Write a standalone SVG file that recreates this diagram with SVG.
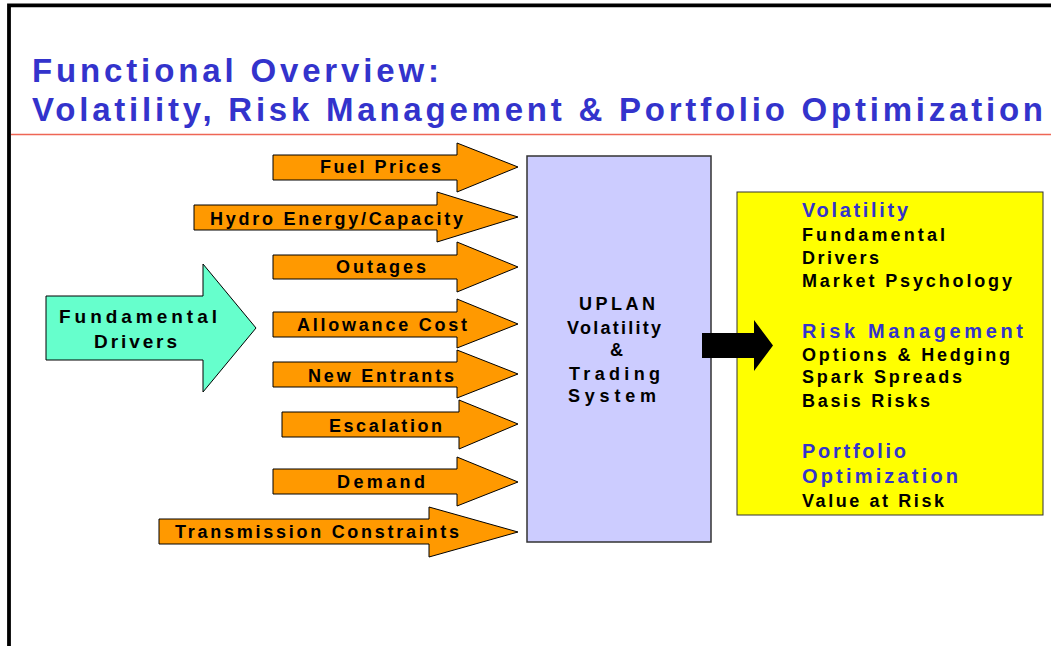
<svg xmlns="http://www.w3.org/2000/svg" width="1051" height="646" viewBox="0 0 1051 646">
<style>
text{font-family:"Liberation Sans",Arial,sans-serif;font-weight:bold}
.title{font-size:33px;fill:#3333CC}
.lbl{font-size:18px;fill:#000}
.big{font-size:19px;fill:#000}
.head{font-size:20px;fill:#3333CC}
.orange{fill:#FF9900;stroke:#000;stroke-width:1}
</style>
<rect x="0" y="0" width="1051" height="646" fill="#fff"/>
<path d="M9,646 V5.3 H1051" fill="none" stroke="#000" stroke-width="3.8"/>
<g id="title">
<text class="title" x="32" y="82" textLength="407" lengthAdjust="spacing">Functional Overview:</text>
<text class="title" x="32" y="121" textLength="1011" lengthAdjust="spacing">Volatility, Risk Management &amp; Portfolio Optimization</text>
<line x1="11" y1="134.5" x2="1051" y2="134.5" stroke="#EE6655" stroke-width="1.6"/>
</g>
<g id="connectors">
<g id="fuel"><polygon class="orange" points="273,155 457,155 457,143 518,167 457,192 457,180 273,180"/><text class="lbl" x="320" y="173" textLength="121" lengthAdjust="spacing">Fuel Prices</text></g>
<g id="hydro"><polygon class="orange" points="194,205 437,205 437,192 518,217 437,242 437,230 194,230"/><text class="lbl" x="210" y="225" textLength="253" lengthAdjust="spacing">Hydro Energy/Capacity</text></g>
<g id="outages"><polygon class="orange" points="273,255 457,255 457,242 518,267 457,292 457,279 273,279"/><text class="lbl" x="336" y="273" textLength="90" lengthAdjust="spacing">Outages</text></g>
<g id="allowance"><polygon class="orange" points="273,312 457,312 457,299 518,324 457,348 457,337 273,337"/><text class="lbl" x="297" y="331" textLength="170" lengthAdjust="spacing">Allowance Cost</text></g>
<g id="entrants"><polygon class="orange" points="273,362 457,362 457,350 518,374 457,398 457,387 273,387"/><text class="lbl" x="308" y="382" textLength="146" lengthAdjust="spacing">New Entrants</text></g>
<g id="escalation"><polygon class="orange" points="282,412 459,412 459,400 518,424 459,449 459,437 282,437"/><text class="lbl" x="329" y="432" textLength="113" lengthAdjust="spacing">Escalation</text></g>
<g id="demand"><polygon class="orange" points="273,469 457,469 457,457 518,482 457,506 457,494 273,494"/><text class="lbl" x="337" y="488" textLength="88" lengthAdjust="spacing">Demand</text></g>
<g id="transmission"><polygon class="orange" points="159,519 429,519 429,507 518,532 429,557 429,544 159,544"/><text class="lbl" x="175" y="538" textLength="284" lengthAdjust="spacing">Transmission Constraints</text></g>
</g>
<g id="fundamental">
<polygon points="46,296 203,296 203,264 256,328 203,392 203,360 46,360" fill="#66FFCC" stroke="#000" stroke-width="1"/>
<text class="big" x="59" y="323" textLength="158" lengthAdjust="spacing">Fundamental</text>
<text class="big" x="94" y="348" textLength="83" lengthAdjust="spacing">Drivers</text>
</g>
<g id="uplan">
<rect x="527" y="156" width="184" height="386" fill="#CCCCFF" stroke="#333" stroke-width="1.5"/>
<text class="lbl" x="579" y="310" textLength="76" lengthAdjust="spacing">UPLAN</text>
<text class="lbl" x="567" y="334" textLength="94" lengthAdjust="spacing">Volatility</text>
<text class="lbl" x="610" y="356">&amp;</text>
<text class="lbl" x="569" y="380" textLength="91" lengthAdjust="spacing">Trading</text>
<text class="lbl" x="568" y="402" textLength="88" lengthAdjust="spacing">System</text>
</g>
<g id="results">
<rect x="737" y="192" width="306" height="323" fill="#FFFF00" stroke="#333" stroke-width="1"/>
<text class="head" x="802" y="217" textLength="106" lengthAdjust="spacing">Volatility</text>
<text class="lbl" x="802" y="241" textLength="143" lengthAdjust="spacing">Fundamental</text>
<text class="lbl" x="802" y="264" textLength="77" lengthAdjust="spacing">Drivers</text>
<text class="lbl" x="802" y="287" textLength="210" lengthAdjust="spacing">Market Psychology</text>
<text class="head" x="802" y="338" textLength="221" lengthAdjust="spacing">Risk Management</text>
<text class="lbl" x="802" y="361" textLength="208" lengthAdjust="spacing">Options &amp; Hedging</text>
<text class="lbl" x="802" y="383" textLength="160" lengthAdjust="spacing">Spark Spreads</text>
<text class="lbl" x="802" y="407" textLength="128" lengthAdjust="spacing">Basis Risks</text>
<text class="head" x="802" y="458" textLength="104" lengthAdjust="spacing">Portfolio</text>
<text class="head" x="802" y="483" textLength="156" lengthAdjust="spacing">Optimization</text>
<text class="lbl" x="802" y="507" textLength="142" lengthAdjust="spacing">Value at Risk</text>
</g>
<g id="output-arrow">
<polygon points="702,333 754,333 754,320 773,345.5 754,371 754,358 702,358" fill="#000"/>
</g>
</svg>
